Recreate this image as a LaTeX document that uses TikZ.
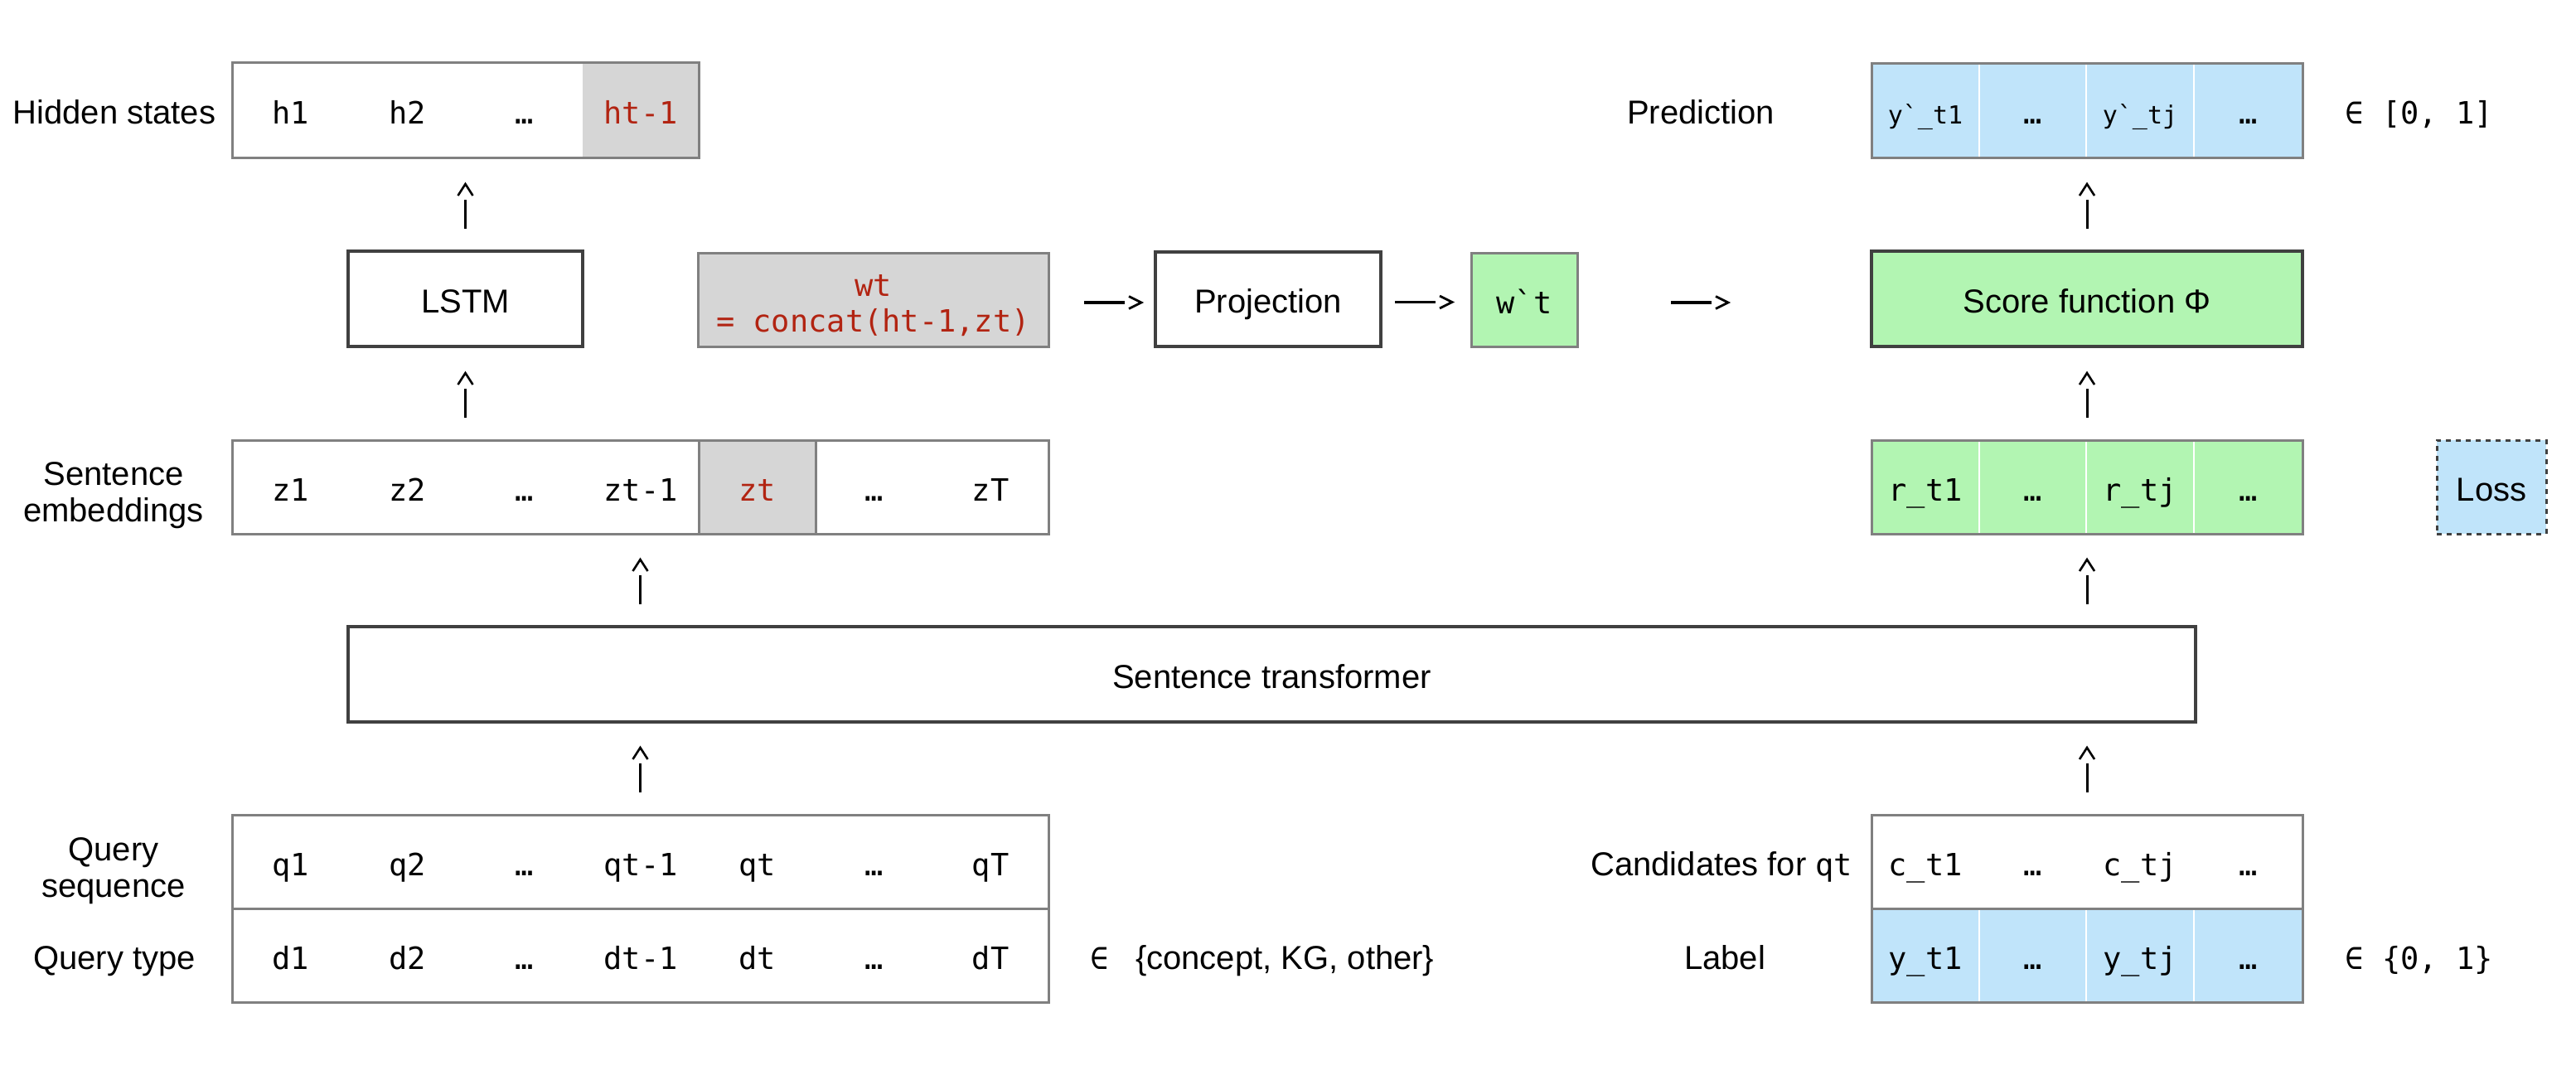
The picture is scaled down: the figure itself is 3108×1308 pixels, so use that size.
\documentclass[tikz,border=0pt]{standalone}
\usepackage{fontspec}
\setmainfont{Liberation Sans}
\setmonofont{DejaVu Sans Mono}
\usetikzlibrary{calc}
\definecolor{cellgrey}{RGB}{214,214,214}
\definecolor{bordergrey}{RGB}{128,128,128}
\definecolor{darkline}{RGB}{64,64,64}
\definecolor{cellblue}{RGB}{192,228,250}
\definecolor{cellgreen}{RGB}{178,245,178}
\definecolor{codered}{RGB}{178,36,18}
\tikzset{
  pxbox/.style n args={4}{at={(#1,#2)}, anchor=north west,
    minimum width={(#3-#1)*0.25pt}, minimum height={(#4-#2)*0.25pt},
    inner sep=0pt, outer sep=0pt},
  sanstext/.style={font=\fontsize{10}{11}\selectfont, inner sep=0pt},
  monotext/.style={font=\ttfamily\fontsize{9.25}{10.75}\selectfont, inner sep=0pt},
  smallmono/.style={font=\ttfamily\fontsize{7.5}{9}\selectfont, inner sep=0pt},
  celltext/.style={text height=8.25pt, text depth=0pt},
  greybox/.style={draw=bordergrey, line width=0.75pt},
  darkbox/.style={draw=darkline, line width=1pt},
  whitecell/.style={draw=white, line width=0.4pt},
  connline/.style={line width=0.75pt, black},
}
\newcommand\vconn[2]{%
  \draw[connline] ($(#1.north -| #2.south)+(0,-27)$) -- ($(#1.north -| #2.south)+(0,-62)$);
  \draw[connline, line width=0.65pt] ($(#1.north -| #2.south)+(-9,-67)$) -- ($(#1.north -| #2.south)+(0,-81)$) -- ($(#1.north -| #2.south)+(9,-67)$);
}
\newcommand\hconn[2]{%
  \draw[connline, line width=0.9pt] ($(#1.east)+(#2,3.5)$) -- ($(#1.east)+(#2+49,3.5)$);
  \draw[connline, line width=0.7pt] ($(#1.east)+(#2+54,-4)$) -- ($(#1.east)+(#2+69,3.5)$) -- ($(#1.east)+(#2+54,11)$);
}
\begin{document}
\begin{tikzpicture}[x=0.25pt,y=-0.25pt]
\fill[white] (0,0) rectangle (3108,1308);
\useasboundingbox (0,0) rectangle (3108,1308);

% ---------- Hidden states ----------
\node[pxbox={280}{75}{421}{190}, monotext, celltext] (h1) {h1};
\node[pxbox={421}{75}{562}{190}, monotext, celltext] (h2) {h2};
\node[pxbox={562}{75}{703}{190}, monotext, celltext] (hdots) {…};
\node[pxbox={703}{75}{843}{190}, monotext, celltext, fill=cellgrey, text=codered] (hprev) {ht-1};
\node[greybox, pxbox={280}{75}{843}{190}] (hs) {};
\node[sanstext, anchor=base] (hslabel) at (138,149) {Hidden states};

% ---------- middle row ----------
\node[darkbox, fill=white, pxbox={420}{303}{703}{418}, sanstext, celltext] (lstm) {LSTM};
\node[greybox, fill=cellgrey, pxbox={842}{305}{1265}{418}, monotext, text=codered, align=center] (wt)
  {\rule{0pt}{10.5pt}wt\\= concat(ht-1,zt)\rule[-2pt]{0pt}{2pt}};
\node[darkbox, fill=white, pxbox={1394}{304}{1666}{418}, sanstext, celltext] (proj) {Projection};
\node[greybox, fill=cellgreen, pxbox={1775}{305}{1903}{418}, monotext, celltext] (wtp) {w\textasciigrave t};
\node[darkbox, fill=cellgreen, pxbox={2258}{303}{2778}{418}, sanstext, celltext] (score) {Score function Φ};

\hconn{wt}{43}
\hconn{proj}{17}
\hconn{wtp}{113}

% ---------- Prediction ----------
\node[whitecell, fill=cellblue, pxbox={2258}{76}{2388}{190}, smallmono, celltext] (p1) {y\textasciigrave\_t1};
\node[whitecell, fill=cellblue, pxbox={2388}{76}{2517}{190}, monotext, celltext] (p2) {…};
\node[whitecell, fill=cellblue, pxbox={2517}{76}{2647}{190}, smallmono, celltext] (p3) {y\textasciigrave\_tj};
\node[whitecell, fill=cellblue, pxbox={2647}{76}{2778}{190}, monotext, celltext] (p4) {…};
\node[greybox, pxbox={2258}{76}{2778}{190}] (pred) {};
\node[sanstext, anchor=base] (predlabel) at (2052,149) {Prediction};
\node[monotext, anchor=base west] (range1) at (2829,149) {∈ [0, 1]};

% ---------- Sentence embeddings ----------
\node[pxbox={280}{531}{421}{644}, monotext, celltext] (z1) {z1};
\node[pxbox={421}{531}{562}{644}, monotext, celltext] (z2) {z2};
\node[pxbox={562}{531}{703}{644}, monotext, celltext] (zd1) {…};
\node[pxbox={703}{531}{843}{644}, monotext, celltext] (zprev) {zt-1};
\node[pxbox={843}{531}{984}{644}, monotext, celltext, fill=cellgrey, greybox, text=codered] (zt) {zt};
\node[pxbox={984}{531}{1125}{644}, monotext, celltext] (zd2) {…};
\node[pxbox={1125}{531}{1265}{644}, monotext, celltext] (zT) {zT};
\node[greybox, pxbox={280}{531}{1265}{644}] (emb) {};
\node[sanstext, align=center] (emblabel) at (137,598) {Sentence\\embeddings};

% ---------- r row and Loss ----------
\node[whitecell, fill=cellgreen, pxbox={2258}{531}{2388}{644}, monotext, celltext] (r1) {r\_t1};
\node[whitecell, fill=cellgreen, pxbox={2388}{531}{2517}{644}, monotext, celltext] (r2) {…};
\node[whitecell, fill=cellgreen, pxbox={2517}{531}{2647}{644}, monotext, celltext] (r3) {r\_tj};
\node[whitecell, fill=cellgreen, pxbox={2647}{531}{2778}{644}, monotext, celltext] (r4) {…};
\node[greybox, pxbox={2258}{531}{2778}{644}] (rrow) {};
\node[draw=darkline, line width=0.75pt, dash pattern=on 1.5pt off 1.5pt, fill=cellblue,
  pxbox={2940}{531}{3072}{644}, sanstext, celltext] (loss) {Loss};

% ---------- Sentence transformer ----------
\node[darkbox, fill=white, pxbox={420}{756}{2649}{871}, sanstext, celltext] (trans) {Sentence transformer};

% ---------- Query ----------
\node[greybox, pxbox={280}{983}{1265}{1096}] (qseq) {};
\node[greybox, pxbox={280}{1096}{1265}{1209}] (qtype) {};
\node[monotext, celltext] (q1) at (350.5,1039.5) {q1};
\node[monotext, celltext] (q2) at (491.5,1039.5) {q2};
\node[monotext, celltext] (qd1) at (632.5,1039.5) {…};
\node[monotext, celltext] (qprev) at (773,1039.5) {qt-1};
\node[monotext, celltext] (qt) at (913.5,1039.5) {qt};
\node[monotext, celltext] (qd2) at (1054.5,1039.5) {…};
\node[monotext, celltext] (qT) at (1195,1039.5) {qT};
\node[monotext, celltext] (d1) at (350.5,1152.5) {d1};
\node[monotext, celltext] (d2) at (491.5,1152.5) {d2};
\node[monotext, celltext] (dd1) at (632.5,1152.5) {…};
\node[monotext, celltext] (dprev) at (773,1152.5) {dt-1};
\node[monotext, celltext] (dt) at (913.5,1152.5) {dt};
\node[monotext, celltext] (dd2) at (1054.5,1152.5) {…};
\node[monotext, celltext] (dT) at (1195,1152.5) {dT};
\node[sanstext, align=center] (qseqlabel) at (137,1051) {Query\\sequence};
\node[sanstext, anchor=base] (qtypelabel) at (138,1169) {Query type};
\node[sanstext, anchor=base west] (qtyperange) at (1315,1169)
  {{\ttfamily\fontsize{9.25}{10.75}\selectfont ∈}\hspace{8pt}\{concept, KG, other\}};

% ---------- Candidates / Label ----------
\node[greybox, pxbox={2258}{983}{2778}{1096}] (cand) {};
\node[monotext, celltext] (c1) at (2323,1039.5) {c\_t1};
\node[monotext, celltext] (c2) at (2453,1039.5) {…};
\node[monotext, celltext] (c3) at (2582,1039.5) {c\_tj};
\node[monotext, celltext] (c4) at (2713,1039.5) {…};
\node[whitecell, fill=cellblue, pxbox={2258}{1096}{2388}{1209}, monotext, celltext] (y1) {y\_t1};
\node[whitecell, fill=cellblue, pxbox={2388}{1096}{2517}{1209}, monotext, celltext] (y2) {…};
\node[whitecell, fill=cellblue, pxbox={2517}{1096}{2647}{1209}, monotext, celltext] (y3) {y\_tj};
\node[whitecell, fill=cellblue, pxbox={2647}{1096}{2778}{1209}, monotext, celltext] (y4) {…};
\node[greybox, pxbox={2258}{1096}{2778}{1209}] (lab) {};
\node[sanstext, anchor=base east] (candlabel) at (2236,1056)
  {Candidates for {\ttfamily\fontsize{9.25}{10.75}\selectfont qt}};
\node[sanstext, anchor=base] (lablabel) at (2081,1169) {Label};
\node[monotext, anchor=base west] (range2) at (2829,1169) {∈ \{0, 1\}};

% ---------- vertical connectors ----------
\vconn{lstm}{lstm}
\vconn{emb}{lstm}
\vconn{trans}{emb}
\vconn{qseq}{qseq}
\vconn{score}{score}
\vconn{rrow}{rrow}
\vconn{trans}{rrow}
\vconn{cand}{cand}
\end{tikzpicture}
\end{document}
